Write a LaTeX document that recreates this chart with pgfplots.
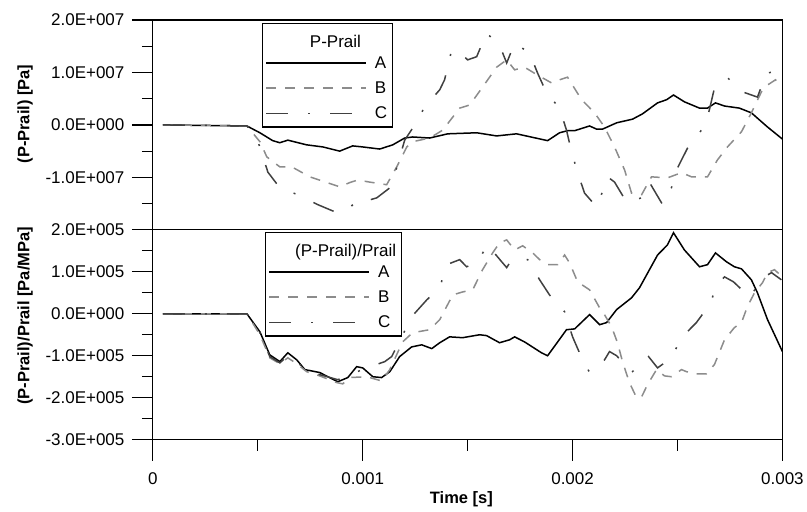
\documentclass[border=0pt]{standalone}
\usepackage{fontspec}
\setmainfont{Liberation Sans}
\usepackage{pgfplots}
\usepackage{pgfplotstable}
\pgfplotsset{compat=1.18}

% ---------- top panel: P-Prail [Pa] ----------
\pgfplotstableread{
t v
0.048e-3 0
0.448e-3 -0.02e7
0.510e-3 -0.15e7
0.571e-3 -0.30e7
0.605e-3 -0.34e7
0.643e-3 -0.29e7
0.733e-3 -0.38e7
0.810e-3 -0.42e7
0.890e-3 -0.50e7
0.952e-3 -0.40e7
1.000e-3 -0.42e7
1.081e-3 -0.46e7
1.143e-3 -0.38e7
1.200e-3 -0.25e7
1.238e-3 -0.23e7
1.319e-3 -0.25e7
1.405e-3 -0.17e7
1.543e-3 -0.15e7
1.638e-3 -0.21e7
1.733e-3 -0.17e7
1.881e-3 -0.30e7
1.938e-3 -0.15e7
1.976e-3 -0.11e7
2.010e-3 -0.11e7
2.081e-3 -0.02e7
2.114e-3 -0.08e7
2.143e-3 -0.08e7
2.210e-3 0.04e7
2.286e-3 0.11e7
2.333e-3 0.21e7
2.405e-3 0.42e7
2.448e-3 0.48e7
2.481e-3 0.57e7
2.533e-3 0.44e7
2.605e-3 0.32e7
2.643e-3 0.32e7
2.681e-3 0.42e7
2.724e-3 0.36e7
2.795e-3 0.32e7
2.852e-3 0.23e7
2.929e-3 -0.04e7
3.000e-3 -0.27e7
}\topA

\pgfplotstableread{
t v
0.048e-3 0
0.448e-3 -0.02e7
0.510e-3 -0.32e7
0.543e-3 -0.61e7
0.605e-3 -0.80e7
0.662e-3 -0.80e7
0.748e-3 -0.99e7
0.890e-3 -1.18e7
0.938e-3 -1.10e7
0.976e-3 -1.05e7
1.033e-3 -1.09e7
1.114e-3 -1.14e7
1.162e-3 -0.80e7
1.210e-3 -0.42e7
1.238e-3 -0.32e7
1.319e-3 -0.25e7
1.381e-3 -0.10e7
1.462e-3 0.32e7
1.510e-3 0.38e7
1.571e-3 0.72e7
1.638e-3 1.10e7
1.686e-3 1.24e7
1.724e-3 1.05e7
1.771e-3 1.10e7
1.833e-3 0.95e7
1.900e-3 0.80e7
1.938e-3 0.86e7
1.976e-3 0.91e7
2.043e-3 0.48e7
2.105e-3 0.23e7
2.152e-3 -0.04e7
2.200e-3 -0.42e7
2.248e-3 -0.86e7
2.281e-3 -1.30e7
2.329e-3 -1.33e7
2.376e-3 -0.99e7
2.452e-3 -1.01e7
2.519e-3 -0.91e7
2.567e-3 -0.99e7
2.643e-3 -0.99e7
2.690e-3 -0.67e7
2.738e-3 -0.42e7
2.805e-3 -0.13e7
2.852e-3 0.23e7
2.900e-3 0.63e7
2.929e-3 0.76e7
2.967e-3 0.86e7
3.000e-3 0.72e7
}\topB

\pgfplotstableread{
t v
0.048e-3 0
0.448e-3 -0.02e7
0.486e-3 -0.19e7
0.510e-3 -0.42e7
0.548e-3 -0.90e7
0.605e-3 -1.20e7
0.690e-3 -1.33e7
0.786e-3 -1.52e7
0.881e-3 -1.68e7
0.938e-3 -1.58e7
0.976e-3 -1.43e7
1.033e-3 -1.43e7
1.067e-3 -1.39e7
1.129e-3 -1.20e7
1.152e-3 -0.95e7
1.200e-3 -0.29e7
1.248e-3 0.00e7
1.295e-3 0.34e7
1.367e-3 0.67e7
1.390e-3 0.86e7
1.424e-3 1.43e7
1.476e-3 1.33e7
1.500e-3 1.24e7
1.543e-3 1.30e7
1.590e-3 1.75e7
1.652e-3 1.52e7
1.686e-3 1.18e7
1.724e-3 1.56e7
1.795e-3 1.37e7
1.833e-3 0.99e7
1.876e-3 0.61e7
1.938e-3 0.32e7
1.971e-3 -0.10e7
1.995e-3 -0.51e7
2.024e-3 -0.91e7
2.057e-3 -1.30e7
2.114e-3 -1.56e7
2.152e-3 -1.18e7
2.167e-3 -0.99e7
2.200e-3 -1.09e7
2.257e-3 -1.47e7
2.329e-3 -1.39e7
2.367e-3 -1.10e7
2.429e-3 -1.52e7
2.471e-3 -1.20e7
2.495e-3 -0.86e7
2.548e-3 -0.44e7
2.614e-3 -0.10e7
2.643e-3 0.15e7
2.652e-3 0.29e7
2.676e-3 0.70e7
2.738e-3 0.90e7
2.810e-3 0.63e7
2.881e-3 0.53e7
2.924e-3 0.99e7
2.962e-3 1.01e7
3.000e-3 0.90e7
}\topC

% ---------- bottom panel: (P-Prail)/Prail [Pa/MPa] ----------
\pgfplotstableread{
t v
0.048e-3 0
0.448e-3 0
0.510e-3 -0.43e5
0.557e-3 -0.98e5
0.605e-3 -1.14e5
0.643e-3 -0.93e5
0.686e-3 -1.10e5
0.724e-3 -1.33e5
0.795e-3 -1.40e5
0.881e-3 -1.62e5
0.929e-3 -1.52e5
0.971e-3 -1.26e5
1.000e-3 -1.29e5
1.048e-3 -1.50e5
1.090e-3 -1.52e5
1.129e-3 -1.38e5
1.176e-3 -1.02e5
1.233e-3 -0.79e5
1.281e-3 -0.74e5
1.329e-3 -0.83e5
1.367e-3 -0.69e5
1.414e-3 -0.55e5
1.476e-3 -0.57e5
1.557e-3 -0.50e5
1.590e-3 -0.52e5
1.652e-3 -0.69e5
1.700e-3 -0.62e5
1.724e-3 -0.55e5
1.771e-3 -0.67e5
1.852e-3 -0.93e5
1.881e-3 -1.00e5
1.929e-3 -0.67e5
1.971e-3 -0.38e5
2.010e-3 -0.36e5
2.081e-3 -0.02e5
2.129e-3 -0.26e5
2.162e-3 -0.21e5
2.210e-3 0.10e5
2.281e-3 0.38e5
2.319e-3 0.62e5
2.405e-3 1.40e5
2.452e-3 1.64e5
2.481e-3 1.93e5
2.533e-3 1.52e5
2.605e-3 1.12e5
2.643e-3 1.17e5
2.681e-3 1.45e5
2.733e-3 1.24e5
2.771e-3 1.12e5
2.805e-3 1.07e5
2.852e-3 0.81e5
2.881e-3 0.50e5
2.929e-3 -0.14e5
3.000e-3 -0.90e5
}\botA

\pgfplotstableread{
t v
0.048e-3 0
0.448e-3 0
0.510e-3 -0.50e5
0.557e-3 -1.05e5
0.605e-3 -1.19e5
0.643e-3 -1.05e5
0.686e-3 -1.19e5
0.733e-3 -1.38e5
0.795e-3 -1.48e5
0.876e-3 -1.64e5
0.905e-3 -1.67e5
0.938e-3 -1.52e5
1.019e-3 -1.50e5
1.090e-3 -1.60e5
1.129e-3 -1.33e5
1.190e-3 -0.67e5
1.238e-3 -0.45e5
1.319e-3 -0.38e5
1.367e-3 -0.14e5
1.429e-3 0.45e5
1.476e-3 0.52e5
1.524e-3 0.57e5
1.571e-3 1.05e5
1.619e-3 1.45e5
1.652e-3 1.69e5
1.686e-3 1.76e5
1.724e-3 1.52e5
1.762e-3 1.62e5
1.810e-3 1.45e5
1.843e-3 1.29e5
1.881e-3 1.17e5
1.929e-3 1.17e5
1.962e-3 1.40e5
1.986e-3 1.21e5
2.024e-3 0.76e5
2.081e-3 0.57e5
2.129e-3 0.14e5
2.152e-3 -0.02e5
2.186e-3 -0.31e5
2.214e-3 -0.69e5
2.238e-3 -1.14e5
2.271e-3 -1.64e5
2.305e-3 -2.00e5
2.329e-3 -1.98e5
2.357e-3 -1.69e5
2.400e-3 -1.33e5
2.438e-3 -1.48e5
2.471e-3 -1.50e5
2.519e-3 -1.33e5
2.543e-3 -1.38e5
2.590e-3 -1.43e5
2.638e-3 -1.43e5
2.676e-3 -1.21e5
2.724e-3 -0.62e5
2.771e-3 -0.33e5
2.805e-3 -0.21e5
2.833e-3 0.17e5
2.867e-3 0.50e5
2.905e-3 0.74e5
2.929e-3 0.98e5
2.962e-3 1.05e5
3.000e-3 0.88e5
}\botB

\pgfplotstableread{
t v
0.048e-3 0
0.448e-3 0
0.510e-3 -0.45e5
0.557e-3 -1.02e5
0.605e-3 -1.17e5
0.643e-3 -1.00e5
0.686e-3 -1.14e5
0.733e-3 -1.36e5
0.795e-3 -1.45e5
0.881e-3 -1.57e5
0.938e-3 -1.48e5
0.995e-3 -1.33e5
1.048e-3 -1.24e5
1.105e-3 -1.14e5
1.138e-3 -1.02e5
1.186e-3 -0.55e5
1.233e-3 -0.07e5
1.305e-3 0.33e5
1.367e-3 0.62e5
1.400e-3 1.17e5
1.462e-3 1.29e5
1.495e-3 1.12e5
1.543e-3 1.21e5
1.595e-3 1.64e5
1.662e-3 1.24e5
1.686e-3 1.10e5
1.710e-3 1.29e5
1.786e-3 1.29e5
1.843e-3 0.81e5
1.890e-3 0.45e5
1.962e-3 0.05e5
2.000e-3 -0.55e5
2.033e-3 -0.93e5
2.081e-3 -1.40e5
2.152e-3 -1.10e5
2.176e-3 -0.90e5
2.210e-3 -1.00e5
2.281e-3 -1.40e5
2.362e-3 -1.02e5
2.405e-3 -1.29e5
2.471e-3 -1.05e5
2.519e-3 -0.57e5
2.590e-3 -0.21e5
2.652e-3 0.21e5
2.690e-3 0.69e5
2.724e-3 0.88e5
2.767e-3 0.76e5
2.843e-3 0.40e5
2.914e-3 0.88e5
2.948e-3 0.98e5
2.995e-3 0.81e5
}\botC

\newcommand{\yl}[1]{\mbox{#1\hspace*{4pt}}}
\newcommand{\xl}[1]{\mbox{\rule{0pt}{20pt}#1}}

\pgfplotsset{
  common/.style={
    width=630pt, height=210pt, scale only axis,
    xmin=0, xmax=0.003,
    scaled ticks=false,
    axis line style={line width=1.2pt},
    every tick/.style={line width=1.2pt, black},
    major tick length=21pt, minor tick length=11pt,
    tick align=outside, tick pos=left,
    font=\fontsize{17}{20}\selectfont,
    ylabel style={font=\fontsize{16.5}{19}\selectfont\bfseries},
    xlabel style={font=\fontsize{16.5}{19}\selectfont\bfseries},
    legend cell align=left,
    legend style={draw=black, line width=1.2pt, fill=white,
      font=\fontsize{17}{20}\selectfont, inner xsep=3pt, inner ysep=5pt,
      row sep=8pt, column sep=6pt, anchor=north west},
    legend image code/.code={\draw[##1, line width=1.6pt] (0pt,0pt) -- (100pt,0pt);},
  },
  sA/.style={black, line width=1.5pt},
  sB/.style={black!45, line width=1.5pt, dash pattern=on 10pt off 9pt},
  sC/.style={black!75, line width=1.5pt, dash pattern=on 22pt off 20pt on 2pt off 20pt},
}

\begin{document}
\begin{tikzpicture}
\path (-153pt,-72pt) rectangle (654pt,440pt);
\begin{axis}[common,
  at={(0pt,210pt)},
  ymin=-2e7, ymax=2e7,
  ytick={-1e7,0,1e7,2e7},
  yticklabels={\yl{-1.0E+007},\yl{0.0E+000},\yl{1.0E+007},\yl{2.0E+007}},
  minor ytick={-1.5e7,-0.5e7,0.5e7,1.5e7},
  xtick=\empty,
  ylabel={(P-Prail) [Pa]},
  ylabel style={at={(axis description cs:-0.203,0.552)}, anchor=center},
  legend style={at={(axis description cs:0.173,0.986)}},
]
\addlegendimage{empty legend}
\addlegendentry{\raisebox{-5pt}[\height][\depth]{\hspace*{-76pt}P-Prail}}
\addplot[sA] table[x=t,y=v] {\topA};
\addlegendentry{A}
\addplot[sB] table[x=t,y=v] {\topB};
\addlegendentry{B}
\addplot[sC] table[x=t,y=v] {\topC};
\addlegendentry{C}
\end{axis}

\begin{axis}[common,
  at={(0pt,0pt)},
  ymin=-3e5, ymax=2e5,
  ytick={-3e5,-2e5,-1e5,0,1e5,2e5},
  yticklabels={\yl{-3.0E+005},\yl{-2.0E+005},\yl{-1.0E+005},\yl{0.0E+000},\yl{1.0E+005},\yl{2.0E+005}},
  minor ytick={-2.5e5,-1.5e5,-0.5e5,0.5e5,1.5e5},
  xtick={0,0.001,0.002,0.003},
  xticklabels={\xl{0},\xl{0.001},\xl{0.002},\xl{0.003}},
  minor xtick={0.0005,0.0015,0.0025},
  xlabel={Time [s]},
  xlabel style={at={(axis description cs:0.49,0)}, anchor=center, yshift=-60pt},
  ylabel={(P-Prail)/Prail [Pa/MPa]},
  ylabel style={at={(axis description cs:-0.203,0.59)}, anchor=center},
  legend style={at={(axis description cs:0.178,0.99)}},
]
\addlegendimage{empty legend}
\addlegendentry{\raisebox{-5pt}[\height][\depth]{\hspace*{-83pt}(P-Prail)/Prail}}
\addplot[sA] table[x=t,y=v] {\botA};
\addlegendentry{A}
\addplot[sB] table[x=t,y=v] {\botB};
\addlegendentry{B}
\addplot[sC] table[x=t,y=v] {\botC};
\addlegendentry{C}
\end{axis}
\end{tikzpicture}
\end{document}
